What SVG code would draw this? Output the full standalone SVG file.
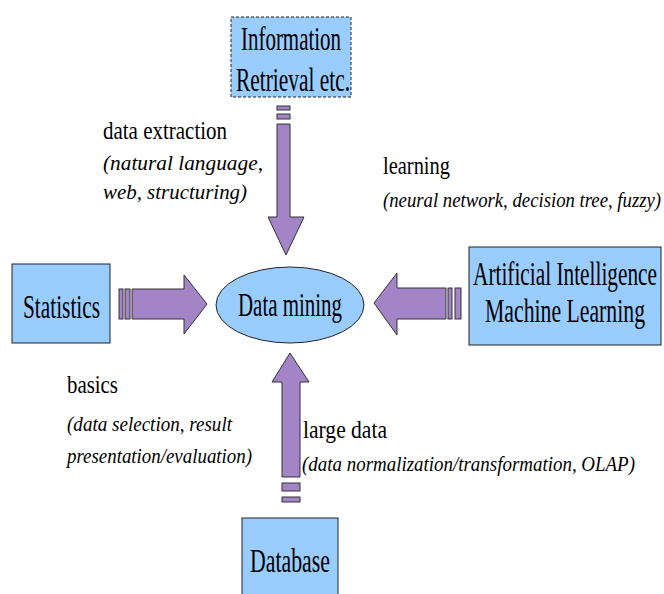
<svg xmlns="http://www.w3.org/2000/svg" width="664" height="594" viewBox="0 0 664 594" font-family="Liberation Serif, DejaVu Serif, serif">
<style>
.box{fill:#99ccff;stroke:#222;stroke-width:1}
.dash{stroke-dasharray:3,2}
.arr{fill:#a385c7;stroke:#333;stroke-width:1}
.big{font-size:33px;fill:#000}
.lab{font-size:25px;fill:#000}
.sub{font-size:21px;font-style:italic;fill:#000}
</style>
<rect width="664" height="594" fill="#fff"/>
<g id="connectors">
  <g id="arrow-down">
    <rect class="arr" x="277" y="106" width="13" height="4"/>
    <rect class="arr" x="277" y="114" width="13" height="5"/>
    <polygon class="arr" points="277,124 290,124 290,217 304,217 286,255 268,217 277,217"/>
  </g>
  <g id="arrow-right">
    <rect class="arr" x="119" y="289" width="4" height="30"/>
    <rect class="arr" x="125" y="289" width="5" height="30"/>
    <polygon class="arr" points="132,289 184,289 184,275 207,304 184,334 184,319 132,319"/>
  </g>
  <g id="arrow-left">
    <rect class="arr" x="455" y="288" width="6" height="31"/>
    <rect class="arr" x="448" y="288" width="4" height="31"/>
    <polygon class="arr" points="446,288 397,288 397,273 374,303 397,335 397,319 446,319"/>
  </g>
  <g id="arrow-up">
    <rect class="arr" x="282" y="483" width="18" height="8"/>
    <rect class="arr" x="282" y="497" width="18" height="5"/>
    <polygon class="arr" points="282,477 282,382 272,382 290,353 309,382 300,382 300,477"/>
  </g>
</g>
<g id="node-info">
  <rect class="box dash" x="231" y="17" width="120" height="80"/>
  <text class="big" font-family="Liberation Serif, serif" x="241" y="50" textLength="100" lengthAdjust="spacingAndGlyphs">Information</text>
  <text class="big" font-family="Liberation Serif, serif" x="236" y="91" textLength="114" lengthAdjust="spacingAndGlyphs">Retrieval etc.</text>
</g>
<g id="node-statistics">
  <rect class="box" x="12" y="264" width="98" height="79"/>
  <text class="big" font-family="Liberation Serif, serif" x="23" y="318" textLength="77" lengthAdjust="spacingAndGlyphs">Statistics</text>
</g>
<g id="node-datamining">
  <ellipse class="box" cx="290" cy="305" rx="74" ry="38"/>
  <text class="big" font-family="Liberation Serif, serif" x="238" y="316" textLength="104" lengthAdjust="spacingAndGlyphs">Data mining</text>
</g>
<g id="node-ai">
  <rect class="box" x="469" y="247" width="192" height="98"/>
  <text class="big" font-family="Liberation Serif, serif" x="473" y="285" textLength="184" lengthAdjust="spacingAndGlyphs">Artificial Intelligence</text>
  <text class="big" font-family="Liberation Serif, serif" x="485" y="322" textLength="160" lengthAdjust="spacingAndGlyphs">Machine Learning</text>
</g>
<g id="node-database">
  <rect class="box" x="242" y="518" width="96" height="90"/>
  <text class="big" font-family="Liberation Serif, serif" x="250" y="572" textLength="80" lengthAdjust="spacingAndGlyphs">Database</text>
</g>
<g id="labels" font-family="Liberation Serif, serif">
  <text class="lab" x="103" y="139" textLength="124" lengthAdjust="spacingAndGlyphs">data extraction</text>
  <text class="sub" x="103" y="170" textLength="160" lengthAdjust="spacingAndGlyphs">(natural language,</text>
  <text class="sub" x="103" y="199" textLength="144" lengthAdjust="spacingAndGlyphs">web, structuring)</text>
  <text class="lab" x="383" y="174" textLength="67" lengthAdjust="spacingAndGlyphs">learning</text>
  <text class="sub" x="383" y="207" textLength="278" lengthAdjust="spacingAndGlyphs">(neural network, decision tree, fuzzy)</text>
  <text class="lab" x="67" y="393" textLength="51" lengthAdjust="spacingAndGlyphs">basics</text>
  <text class="sub" x="67" y="431" textLength="165" lengthAdjust="spacingAndGlyphs">(data selection, result</text>
  <text class="sub" x="67" y="463" textLength="185" lengthAdjust="spacingAndGlyphs">presentation/evaluation)</text>
  <text class="lab" x="303" y="438" textLength="84" lengthAdjust="spacingAndGlyphs">large data</text>
  <text class="sub" x="302" y="471" textLength="333" lengthAdjust="spacingAndGlyphs">(data normalization/transformation, OLAP)</text>
</g>
</svg>
